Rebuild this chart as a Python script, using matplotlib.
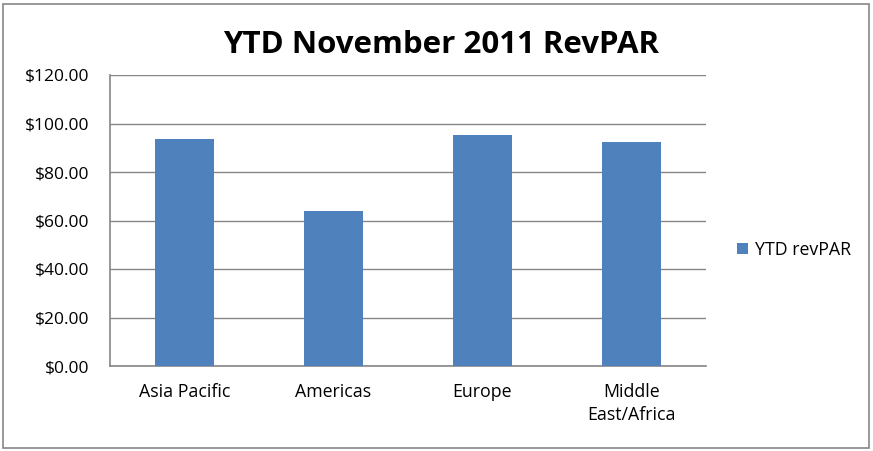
import matplotlib.pyplot as plt
from matplotlib.patches import Rectangle
from matplotlib.ticker import FuncFormatter

# ===== DATA =====
regions = ["Asia Pacific", "Americas", "Europe", "Middle\nEast/Africa"]
revpar = [93.5, 63.9, 95.3, 92.4]
series_name = "YTD revPAR"
title = "YTD November 2011 RevPAR"

BAR_COLOR = "#4F81BD"
GRID_COLOR = "#868686"

plt.rcParams["font.family"] = ["Open Sans", "DejaVu Sans"]

fig = plt.figure(figsize=(8.73, 4.51), dpi=100)
ax = fig.add_axes([110 / 873, 85 / 451, 596 / 873, 291 / 451])

x = range(len(regions))
ax.bar(x, revpar, width=0.4, color=BAR_COLOR, label=series_name, zorder=3)

ax.set_xlim(-0.5, len(regions) - 0.5)
ax.set_ylim(0, 120)
ax.set_yticks(range(0, 121, 20))
ax.yaxis.set_major_formatter(FuncFormatter(lambda v, _: f"${v:.2f}"))
ax.set_xticks(list(x))
ax.set_xticklabels(regions, fontsize=12.8, linespacing=1.4)
ax.tick_params(axis="y", labelsize=12.5, length=0, pad=15)
ax.tick_params(axis="x", length=0, pad=12)

ax.grid(axis="y", color=GRID_COLOR, linewidth=1, zorder=0)
for side in ["top", "right"]:
    ax.spines[side].set_visible(False)
for side in ["left", "bottom"]:
    ax.spines[side].set_color(GRID_COLOR)
    ax.spines[side].set_linewidth(1.2)

fig.text(441 / 873, 1 - 45 / 451, title, ha="center", va="center",
         fontsize=22.5, fontweight="bold")

leg = ax.legend(loc="center left", bbox_to_anchor=(1.025, 0.4), frameon=False,
                fontsize=12.8, handlelength=0.6, handleheight=0.6, handletextpad=0.4)

# outer chart border
fig.patches.append(Rectangle((3 / 873, 3 / 451), 866 / 873, 444 / 451,
                             transform=fig.transFigure, fill=False,
                             edgecolor=GRID_COLOR, linewidth=1.2))

fig.savefig("out.png", dpi=100)
